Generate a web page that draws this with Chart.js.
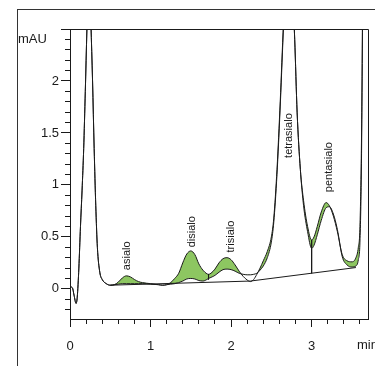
<!DOCTYPE html>
<html>
<head>
<meta charset="utf-8">
<script src="https://cdn.jsdelivr.net/npm/chart.js@4/dist/chart.umd.min.js"></script>
<style>
html, body { margin: 0; padding: 0; background: #fff; overflow: hidden; }
#wrap { position: relative; width: 375px; height: 366px; overflow: hidden; }
#frame { position: absolute; left: 17px; top: 9px; width: 420px; height: 420px; border-top: 1px solid #333; border-left: 1px solid #333; }
canvas { position: absolute; left: 0; top: 0; }
</style>
</head>
<body>
<div id="wrap"><div id="frame"></div><canvas id="myChart" width="375" height="366"></canvas></div>
<script>
// retention time (min) shared by both traces
const times = [
    0, 0.03, 0.05, 0.075, 0.09, 0.11, 0.13, 0.15, 0.17, 0.19,
    0.21, 0.235, 0.26, 0.28, 0.30, 0.32, 0.34, 0.37, 0.40, 0.45,
    0.50, 0.55, 0.60, 0.65, 0.70, 0.75, 0.80, 0.85, 0.90, 1.00,
    1.10, 1.15, 1.20, 1.25, 1.30, 1.35, 1.40, 1.45, 1.50, 1.55,
    1.60, 1.65, 1.70, 1.72, 1.75, 1.80, 1.85, 1.90, 1.95, 2.00,
    2.05, 2.10, 2.15, 2.20, 2.24, 2.28, 2.32, 2.36, 2.40, 2.45,
    2.50, 2.53, 2.57, 2.61, 2.65, 2.70, 2.75, 2.79, 2.82, 2.86,
    2.90, 2.95, 3.00, 3.03, 3.07, 3.12, 3.18, 3.22, 3.27, 3.32,
    3.38, 3.44, 3.50, 3.55, 3.58, 3.60, 3.62, 3.64
]

// sample trace (mAU)
const sampleValues = [
    0.02, 0.01, -0.06, -0.14, -0.08, 0.2, 0.6, 0.95, 1.35, 1.9,
    2.5, 3.2, 2.55, 2.0, 1.35, 0.8, 0.4, 0.16, 0.09, 0.05,
    0.035, 0.04, 0.065, 0.105, 0.125, 0.115, 0.09, 0.07, 0.06, 0.05,
    0.04, 0.035, 0.04, 0.06, 0.10, 0.15, 0.25, 0.335, 0.365, 0.33,
    0.24, 0.18, 0.145, 0.14, 0.15, 0.19, 0.25, 0.29, 0.30, 0.28,
    0.23, 0.17, 0.12, 0.085, 0.07, 0.09, 0.14, 0.2, 0.27, 0.36,
    0.5, 0.68, 1.15, 1.8, 2.55, 3.3, 3.1, 2.4, 1.7, 1.15,
    0.85, 0.6, 0.47, 0.5, 0.6, 0.74, 0.83, 0.8, 0.7, 0.55,
    0.33, 0.27, 0.26, 0.3, 0.4, 0.6, 1.5, 3.5
]

// reference trace (mAU)
const referenceValues = [
    0.02, 0.01, -0.06, -0.14, -0.08, 0.2, 0.6, 0.95, 1.35, 1.9,
    2.5, 3.2, 2.55, 2.0, 1.35, 0.8, 0.4, 0.16, 0.09, 0.05,
    0.035, 0.04, 0.045, 0.05, 0.05, 0.05, 0.05, 0.05, 0.05, 0.045,
    0.04, 0.035, 0.04, 0.045, 0.05, 0.06, 0.075, 0.095, 0.10, 0.095,
    0.08, 0.075, 0.09, 0.10, 0.11, 0.13, 0.16, 0.185, 0.19, 0.185,
    0.17, 0.15, 0.14, 0.135, 0.135, 0.14, 0.15, 0.18, 0.22, 0.3,
    0.45, 0.64, 1.1, 1.75, 2.5, 3.3, 3.1, 2.4, 1.7, 1.15,
    0.8, 0.55, 0.39, 0.42, 0.52, 0.66, 0.78, 0.79, 0.72, 0.57,
    0.31, 0.23, 0.21, 0.22, 0.28, 0.45, 1.3, 3.5
]

const baselineTimes = [0.5, 2.24, 3.55]
const baselineValues = [0.035, 0.075, 0.205]

const dropTimes = [1.72, 3.0]
const dropTops = [0.14, 0.47]
const dropBottoms = [0.09, 0.15]

const peakNames = ['asialo', 'disialo', 'trisialo', 'tetrasialo', 'pentasialo']
const peakLabelTimes = [0.71, 1.51, 2.0, 2.72, 3.22]
const peakLabelValues = [0.18, 0.40, 0.35, 1.26, 0.93]

const xTicks = [0, 0.2, 0.4, 0.6, 0.8, 1, 1.2, 1.4, 1.6, 1.8, 2, 2.2, 2.4, 2.6, 2.8, 3, 3.2, 3.4, 3.6]
const xLabelValues = [0, 1, 2, 3]
const xLabels = ['0', '1', '2', '3']
const yTicks = [-0.2, -0.1, 0, 0.1, 0.2, 0.3, 0.4, 0.5, 0.6, 0.7, 0.8, 0.9, 1, 1.1, 1.2, 1.3, 1.4, 1.5,
    1.6, 1.7, 1.8, 1.9, 2, 2.1, 2.2, 2.3, 2.4, 2.5]
const yMajor = [0, 0.5, 1, 1.5, 2, 2.5]
const yLabelValues = [0, 0.5, 1, 1.5, 2]
const yLabels = ['0', '0.5', '1', '1.5', '2']
const xTitle = 'min'
const yTitle = 'mAU'

const fontFamily = "'Liberation Sans', Arial, sans-serif"
const ink = '#1a1a1a'
const green = '#8dc661'

const findIndex = (list, v) => list.findIndex(m => Math.abs(m - v) < 1e-6)

const toPoints = (xs, ys) => xs.map((t, i) => ({ x: t, y: ys[i] }))

const annotate = {
    id: 'annotate',
    afterDraw(chart) {
        const { ctx, chartArea: a, scales: { x, y } } = chart
        ctx.save()
        ctx.strokeStyle = ink
        ctx.lineWidth = 1
        ctx.beginPath()
        ctx.moveTo(a.left, Math.round(a.top) + 0.5)
        ctx.lineTo(Math.round(a.right) + 0.5, Math.round(a.top) + 0.5)
        ctx.lineTo(Math.round(a.right) + 0.5, a.bottom)
        ctx.stroke()

        ctx.fillStyle = ink
        ctx.font = '11px ' + fontFamily
        ctx.textAlign = 'left'
        ctx.textBaseline = 'middle'
        peakNames.forEach((name, i) => {
            ctx.save()
            ctx.translate(x.getPixelForValue(peakLabelTimes[i]), y.getPixelForValue(peakLabelValues[i]))
            ctx.rotate(-Math.PI / 2)
            ctx.fillText(name, 0, 0)
            ctx.restore()
        })

        ctx.font = '13px ' + fontFamily
        ctx.fillText(yTitle, a.left - 52, y.getPixelForValue(2.4))
        ctx.fillText(xTitle, a.right - 11, x.top + 26)
        ctx.restore()
    }
}

const datasets = [{
        data: toPoints(times, sampleValues),
        borderColor: ink,
        borderWidth: 1,
        cubicInterpolationMode: 'monotone',
        fill: { target: 1, above: green, below: 'rgba(255,255,255,0)' }
    },
    {
        data: toPoints(times, referenceValues),
        borderColor: ink,
        borderWidth: 1,
        cubicInterpolationMode: 'monotone',
        fill: false
    },
    {
        data: toPoints(baselineTimes, baselineValues),
        borderColor: ink,
        borderWidth: 1,
        fill: false
    }
]
dropTimes.forEach((t, i) => {
    datasets.push({
        data: [{ x: t, y: dropTops[i] }, { x: t, y: dropBottoms[i] }],
        borderColor: ink,
        borderWidth: 1,
        fill: false
    })
})

const config = {
    type: 'line',
    data: { datasets: datasets },
    options: {
        responsive: false,
        animation: false,
        layout: { padding: { left: 0, top: 29, right: 7, bottom: 0 } },
        elements: { point: { radius: 0 } },
        plugins: {
            legend: { display: false },
            tooltip: { enabled: false },
            filler: { drawTime: 'beforeDatasetsDraw' }
        },
        scales: {
            x: {
                type: 'linear',
                min: 0,
                max: 3.7,
                afterBuildTicks: ax => { ax.ticks = xTicks.map(v => ({ value: v })) },
                afterFit: s => { s.height = 47 },
                grid: {
                    drawOnChartArea: false,
                    tickLength: 8,
                    tickColor: ink,
                    tickBorderDash: c => findIndex(xLabelValues, c.tick.value) >= 0 ? [] : [4, 30]
                },
                border: { color: ink },
                ticks: {
                    autoSkip: false,
                    maxRotation: 0,
                    padding: 12,
                    color: ink,
                    font: { family: fontFamily, size: 13 },
                    callback: v => {
                        const k = findIndex(xLabelValues, v)
                        return k >= 0 ? xLabels[k] : ''
                    }
                }
            },
            y: {
                min: -0.29,
                max: 2.5,
                afterBuildTicks: ax => { ax.ticks = yTicks.map(v => ({ value: v })) },
                afterFit: s => { s.width = 70 },
                grid: {
                    drawOnChartArea: false,
                    tickLength: 9,
                    tickColor: ink,
                    tickBorderDash: c => findIndex(yMajor, c.tick.value) >= 0 ? [] : [0, 4, 5, 30]
                },
                border: { color: ink },
                ticks: {
                    autoSkip: false,
                    padding: 2,
                    color: ink,
                    font: { family: fontFamily, size: 13 },
                    callback: v => {
                        const k = findIndex(yLabelValues, v)
                        return k >= 0 ? yLabels[k] : ''
                    }
                }
            }
        }
    },
    plugins: [annotate]
}

let ctx = document.getElementById('myChart').getContext('2d')
let myChart = new Chart(ctx, config)
</script>
</body>
</html>
